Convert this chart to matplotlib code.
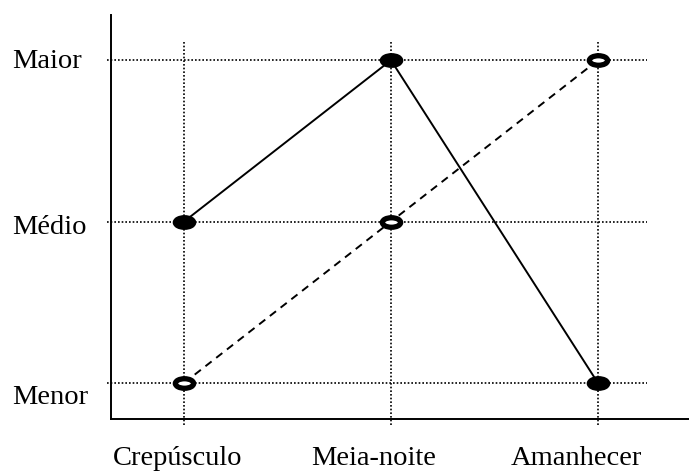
import matplotlib
matplotlib.use('Agg')
import matplotlib.pyplot as plt
from matplotlib.path import Path
from matplotlib.transforms import Affine2D, ScaledTranslation

periods = ['Crepúsculo', 'Meia-noite', 'Amanhecer']
levels = ['Menor', 'Médio', 'Maior']
solid_series = [1, 2, 0]   # filled markers
dashed_series = [0, 1, 2]  # open markers

plt.rcParams['font.family'] = ['Liberation Serif', 'DejaVu Serif']

fig = plt.figure(figsize=(6.89, 4.75), dpi=100)
ax = fig.add_axes([0.161, 0.118, 0.839, 0.850])

x = list(range(len(periods)))
y = list(range(len(levels)))
ax.set_xlim(-0.353, 2.44)
ax.set_ylim(-0.223, 2.279)

# dotted grid, a bit shorter/longer than the axes like the original
ax.hlines(y, -0.372, 2.237, colors='black', linestyles=(0, (1, 1.2)), lw=1.2, clip_on=False, zorder=1)
ax.vlines(x, -0.26, 2.124, colors='black', linestyles=(0, (1, 1.2)), lw=1.2, clip_on=False, zorder=1)

ellipse = Path.unit_circle().transformed(Affine2D().scale(1, 0.52))

ax.plot(x, solid_series, color='black', lw=1.4, zorder=2)
ax.plot(x, dashed_series, color='black', lw=1.4, dashes=(4, 3), zorder=2)
ax.plot(x, solid_series, ls='none', marker=ellipse, ms=13.2, mfc='black', mec='black', mew=3.8, zorder=3)
ax.plot(x, dashed_series, ls='none', marker=ellipse, ms=13.2, mfc='white', mec='black', mew=3.8, zorder=3)

for s in ['top', 'right']:
    ax.spines[s].set_visible(False)
for s in ['left', 'bottom']:
    ax.spines[s].set_linewidth(1.4)

ax.set_xticks(x, periods, fontsize=20.5)
ax.set_yticks(y, levels, fontsize=20.5)
ax.tick_params(axis='both', length=0)
ax.tick_params(axis='x', pad=19.5)
ax.tick_params(axis='y', pad=71)
for lab in ax.get_yticklabels():
    lab.set_horizontalalignment('left')

# nudge labels to where the original placed them
x_shift = [-4.3, -12.2, -15.8]
for lab, dx in zip(ax.get_xticklabels(), x_shift):
    lab.set_transform(lab.get_transform() + ScaledTranslation(dx / 72, 0, fig.dpi_scale_trans))
y_shift = [-8.6, -2, 1.4]
for lab, dy in zip(ax.get_yticklabels(), y_shift):
    lab.set_transform(lab.get_transform() + ScaledTranslation(0, dy / 72, fig.dpi_scale_trans))

fig.savefig('out.png', dpi=100)
